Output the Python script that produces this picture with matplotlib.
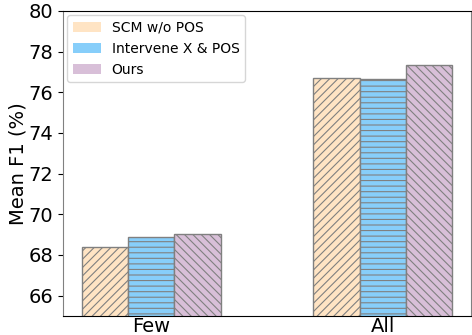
import numpy as np
import matplotlib
matplotlib.use("Agg")
import matplotlib.pyplot as plt
from matplotlib.patches import Patch

groups = ["Few", "All"]
methods = ["SCM w/o POS", "Intervene X & POS", "Ours"]
scores = {
    "SCM w/o POS": [68.4, 76.7],
    "Intervene X & POS": [68.9, 76.65],
    "Ours": [69.05, 77.35],
}
colors = ["bisque", "lightskyblue", "thistle"]
hatches = ["////", "---", "\\\\\\\\"]

plt.rcParams["hatch.color"] = "gray"
plt.rcParams["hatch.linewidth"] = 0.8

fig = plt.figure(figsize=(4.72, 3.35), dpi=100)
ax = fig.add_axes([63 / 472, 19 / 335, 408 / 472, 305 / 335])

x = np.arange(len(groups))
width = 0.2
for i, m in enumerate(methods):
    ax.bar(x + (i - 1) * width, scores[m], width, color=colors[i],
           edgecolor="gray", linewidth=1.0, hatch=hatches[i])

ax.set_ylim(65, 80)
ax.set_xlim(-0.38, 1.38)
ax.set_yticks(range(66, 81, 2))
ax.set_xticks(x)
ax.set_xticklabels(groups, fontsize=14)
ax.tick_params(axis="y", labelsize=14)
ax.tick_params(axis="x", length=0, pad=1)
ax.set_ylabel("Mean F1 (%)", fontsize=14, labelpad=1)

ax.spines["left"].set_color("gray")
ax.spines["right"].set_color("gray")

handles = [Patch(facecolor=c, label=m) for c, m in zip(colors, methods)]
ax.legend(handles=handles, loc="upper left", fontsize=10, borderaxespad=0.3)

fig.savefig("out.png", dpi=100)
